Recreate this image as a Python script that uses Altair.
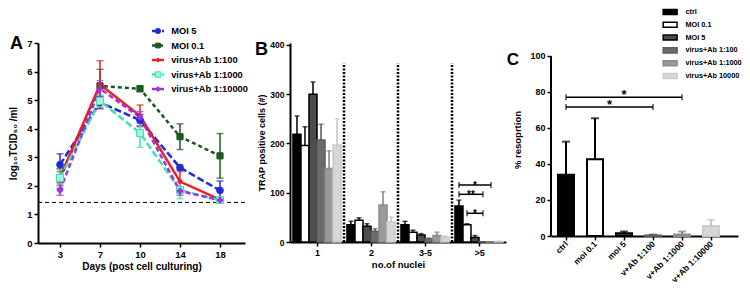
import altair as alt
import pandas as pd

FONT = "Liberation Sans"

# ---------------- Panel A: virus titre over time ----------------
days = ["3", "7", "10", "14", "18"]
series_a = ["MOI 5", "MOI 0.1", "virus+Ab 1:100", "virus+Ab 1:1000", "virus+Ab 1:10000"]
moi5 = [2.74, 4.92, 4.30, 2.64, 1.84]
moi5_err = [0.38, 0.22, 0.20, 0.08, 0.33]
moi01 = [2.25, 5.50, 5.40, 3.72, 3.05]
moi01_err = [0.35, 0.58, 0.10, 0.45, 0.78]
ab100 = [2.30, 5.55, 4.45, 2.15, 1.52]
ab100_err = [0.20, 0.83, 0.38, 0.35, 0.05]
ab1000 = [2.28, 4.97, 3.85, 1.85, 1.50]
ab1000_err = [0.30, 0.20, 0.50, 0.30, 0.05]
ab10000 = [1.85, 5.40, 4.40, 1.82, 1.50]
ab10000_err = [0.18, 0.28, 0.20, 0.15, 0.05]
detection_limit = 1.42

# ---------------- Panel B: TRAP positive cells ----------------
nuclei = ["1", "2", "3-5", ">5"]
series_bc = ["ctrl", "MOI 0.1", "MOI 5", "virus+Ab 1:100", "virus+Ab 1:1000", "virus+Ab 10000"]
trap_1 = [219, 196, 300, 207, 149, 197]
trap_1_err = [37, 38, 25, 32, 36, 53]
trap_2 = [35, 44, 32, 22, 75, 41]
trap_2_err = [7, 5, 5, 5, 27, 10]
trap_3_5 = [35, 20, 14, 6, 13, 10]
trap_3_5_err = [7, 4, 3, 2, 7, 2]
trap_gt5 = [73, 35, 9, 0.5, 0.5, 1]
trap_gt5_err = [12, 2, 4, 0, 0, 0.5]
sig_b_from = ["ctrl", "ctrl", "MOI 0.1"]
sig_b_to = ["virus+Ab 1:1000", "virus+Ab 1:100", "virus+Ab 1:100"]
sig_b_y = [115.7, 96.8, 58.3]
sig_b_text = ["*", "**", "*"]

# ---------------- Panel C: % resorption ----------------
resorp_labels = ["ctrl", "moi 0.1", "moi 5", "v+Ab 1:100", "v+Ab 1:1000", "v+Ab 1:10000"]
resorp = [34.0, 42.6, 1.5, 0.3, 0.8, 5.5]
resorp_err = [18.4, 22.8, 1.0, 0.5, 1.7, 3.5]
sig_c_from = ["ctrl", "ctrl"]
sig_c_to = ["v+Ab 1:1000", "v+Ab 1:100"]
sig_c_y = [77.0, 71.6]
sig_c_text = ["*", "*"]

# ---------------- styles ----------------
style_a = {
    "MOI 5": dict(color="#1f2bd6", dash=[7, 3], shape="circle", size=45, fill="#1f2bd6"),
    "MOI 0.1": dict(color="#1b5a1e", dash=[4, 3], shape="square", size=38, fill="#1b5a1e"),
    "virus+Ab 1:100": dict(color="#e8202a", dash=None, shape="circle", size=16, fill="#e8202a"),
    "virus+Ab 1:1000": dict(color="#3ee2b2", dash=[7, 3], shape="square", size=50, fill="#a6f2dc"),
    "virus+Ab 1:10000": dict(color="#a032e0", dash=[5, 3], shape="cross", size=28, fill="#a032e0"),
}
bar_fill = ["#000000", "#ffffff", "#4d4d4d", "#6b6b6b", "#9a9a9a", "#d6d6d6"]
bar_stroke = ["#000000", "#000000", "#000000", "#5e5e5e", "#8c8c8c", "#cccccc"]
err_color = ["#000000", "#000000", "#000000", "#555555", "#808080", "#c4c4c4"]

axis_style = dict(grid=False, domainColor="#000000", domainWidth=2, tickColor="#000000",
                  tickWidth=1.5, tickSize=4, labelColor="#000000", labelFont=FONT,
                  labelFontWeight="bold", labelPadding=2, titleFont=FONT,
                  titleFontWeight="bold", titleColor="#000000")


def js_list(vals):
    return "[" + ",".join("'" + v + "'" for v in vals) + "]"


def letter(txt, x, y, size):
    return alt.Chart(pd.DataFrame({"t": [txt]})).mark_text(
        font=FONT, fontWeight="bold", fontSize=size, align="center",
        baseline="middle", color="#000000").encode(x=alt.value(x), y=alt.value(y), text="t:N")


# ================= Panel A =================
A_W, A_H = 207, 200
xa_scale = alt.Scale(domain=[-0.55, 4.625], nice=False, zero=False)
ya_scale = alt.Scale(domain=[0, 7], nice=False, zero=False)
xa_axis = alt.Axis(values=list(range(len(days))), labelExpr=js_list(days) + "[datum.value]",
                   title="Days (post cell culturing)", labelFontSize=9.5, titleFontSize=10,
                   titlePadding=3, **axis_style)
ya_axis = alt.Axis(values=list(range(8)), title="log₁₀TCID₅₀ /ml", labelFontSize=9.5,
                   titleFontSize=10, titlePadding=8, **axis_style)


def XA(f):
    return alt.X(f + ":Q", scale=xa_scale, axis=xa_axis)


def YA(f):
    return alt.Y(f + ":Q", scale=ya_scale, axis=ya_axis)


titer_vals = [moi5, moi01, ab100, ab1000, ab10000]
titer_errs = [moi5_err, moi01_err, ab100_err, ab1000_err, ab10000_err]
rows_a = []
for s, vals, errs in zip(series_a, titer_vals, titer_errs):
    for i, (v, e) in enumerate(zip(vals, errs)):
        rows_a.append({"series": s, "idx": i, "val": v, "lo": v - e, "hi": v + e})
df_a = pd.DataFrame(rows_a)

leg_a = pd.DataFrame([{"series": s, "ly": 7.42 - 0.508 * k, "x1": 2.3, "x2": 2.6,
                       "xp": 2.45, "xt": 2.78} for k, s in enumerate(series_a)])

lines, errs_a, pts, legs = [], [], [], []
for s in series_a:
    st = style_a[s]
    d = df_a[df_a["series"] == s]
    lk = dict(color=st["color"], strokeWidth=2.5)
    if st["dash"]:
        lk["strokeDash"] = st["dash"]
    lines.append(alt.Chart(d).mark_line(**lk).encode(x=XA("idx"), y=YA("val")))
    errs_a.append(alt.Chart(d).mark_rule(color=st["color"], strokeWidth=1.5).encode(
        x=XA("idx"), y=YA("lo"), y2="hi"))
    for f in ["lo", "hi"]:
        errs_a.append(alt.Chart(d).mark_tick(color=st["color"], orient="horizontal", size=7,
                                             thickness=1.5).encode(x=XA("idx"), y=YA(f)))
    pk = dict(shape=st["shape"], size=st["size"], filled=True, fill=st["fill"],
              stroke=st["color"], strokeWidth=1, opacity=1)
    pts.append(alt.Chart(d).mark_point(**pk).encode(x=XA("idx"), y=YA("val")))
    ld = leg_a[leg_a["series"] == s]
    lpk = dict(pk)
    lpk["size"] = st["size"] * 0.6
    legs.append(alt.Chart(ld).mark_rule(**lk).encode(x=XA("x1"), x2="x2", y=YA("ly")))
    legs.append(alt.Chart(ld).mark_point(**lpk).encode(x=XA("xp"), y=YA("ly")))
legs.append(alt.Chart(leg_a).mark_text(font=FONT, fontWeight="bold", fontSize=9.3, align="left",
                                       baseline="middle", color="#000000").encode(
    x=XA("xt"), y=YA("ly"), text="series:N"))

limit = alt.Chart(pd.DataFrame({"y": [detection_limit]})).mark_rule(
    color="#000000", strokeWidth=1, strokeDash=[4, 3]).encode(y=YA("y"))

chart_a = alt.layer(limit, *lines, *errs_a, *pts, *legs, letter("A", -21.5, 0.5, 18)).properties(
    width=A_W, height=A_H)

# ================= Panel B =================
B_W, B_H = 216, 199
xb_scale = alt.Scale(domain=[0, 4], nice=False, zero=False)
yb_scale = alt.Scale(domain=[0, 404], nice=False, zero=False)
xb_axis = alt.Axis(values=[0.5, 1.5, 2.5, 3.5], labelExpr=js_list(nuclei) + "[floor(datum.value)]",
                   title="no.of nuclei", labelFontSize=9, titleFontSize=9.5, titlePadding=2,
                   **axis_style)
yb_axis = alt.Axis(values=[0, 100, 200, 300, 400], title="TRAP positive cells (#)", labelFontSize=8.5,
                   titleFontSize=9, titlePadding=3, **axis_style)


def XB(f):
    return alt.X(f + ":Q", scale=xb_scale, axis=xb_axis)


def YB(f):
    return alt.Y(f + ":Q", scale=yb_scale, axis=yb_axis)


fill_scale = alt.Scale(domain=series_bc, range=bar_fill)
stroke_scale = alt.Scale(domain=series_bc, range=bar_stroke)
err_scale = alt.Scale(domain=series_bc, range=err_color)

b_po = 0.055
b_w = (1 - 2 * b_po) / len(series_bc)
trap_vals = [trap_1, trap_2, trap_3_5, trap_gt5]
trap_errs = [trap_1_err, trap_2_err, trap_3_5_err, trap_gt5_err]
rows_b = []
for gi, g in enumerate(nuclei):
    for si, s in enumerate(series_bc):
        x0 = gi + b_po + si * b_w
        v = trap_vals[gi][si]
        rows_b.append({"group": g, "series": s, "x0": x0, "x1": x0 + b_w, "xc": x0 + b_w / 2,
                       "val": v, "top": v + trap_errs[gi][si], "base": 0})
df_b = pd.DataFrame(rows_b)


def center_b(series_name, group_index):
    return group_index + b_po + (series_bc.index(series_name) + 0.5) * b_w


bs = [center_b(a, 3) for a in sig_b_from]
be = [center_b(b, 3) for b in sig_b_to]
sig_b = pd.DataFrame({"bstart": bs, "bend": be, "bmid": [(p + q) / 2 for p, q in zip(bs, be)],
                      "y": sig_b_y, "label": sig_b_text})

dividers = pd.DataFrame({"x": [1, 2, 3], "y0": [0, 0, 0], "y1": [363, 363, 363]})

bars_b = alt.Chart(df_b).mark_bar(strokeWidth=1.5).encode(
    x=XB("x0"), x2="x1", y=YB("val"), y2="base",
    fill=alt.Fill("series:N", scale=fill_scale, legend=None),
    stroke=alt.Stroke("series:N", scale=stroke_scale, legend=None))
err_b = alt.Chart(df_b).mark_rule(strokeWidth=1.5).encode(
    x=XB("xc"), y=YB("val"), y2="top", color=alt.Color("series:N", scale=err_scale, legend=None))
cap_b = alt.Chart(df_b).mark_tick(orient="horizontal", size=5, thickness=1.5).encode(
    x=XB("xc"), y=YB("top"), color=alt.Color("series:N", scale=err_scale, legend=None))
div_b = alt.Chart(dividers).mark_rule(color="#000000", strokeWidth=2.5, strokeDash=[2, 1.5]).encode(
    x=XB("x"), y=YB("y0"), y2="y1")
br_b = alt.Chart(sig_b).mark_rule(color="#000000", strokeWidth=1.5).encode(
    x=XB("bstart"), x2="bend", y=YB("y"))
brs_b = alt.Chart(sig_b).mark_tick(color="#000000", orient="vertical", size=6, thickness=1.5).encode(
    x=XB("bstart"), y=YB("y"))
bre_b = alt.Chart(sig_b).mark_tick(color="#000000", orient="vertical", size=6, thickness=1.5).encode(
    x=XB("bend"), y=YB("y"))
star_b = alt.Chart(sig_b).mark_text(font=FONT, fontWeight="bold", fontSize=10, baseline="alphabetic",
                                    dy=3.5, color="#000000").encode(x=XB("bmid"), y=YB("y"), text="label:N")

chart_b = alt.layer(div_b, bars_b, err_b, cap_b, br_b, brs_b, bre_b, star_b,
                    letter("B", -28.5, 7, 18)).properties(width=B_W, height=B_H)

# ================= Panel C =================
C_W, C_H = 187, 193
xc_scale = alt.Scale(domain=[-0.517, 5.93], nice=False, zero=False)
yc_scale = alt.Scale(domain=[0, 107.2], nice=False, zero=False)
xc_axis = alt.Axis(values=list(range(len(resorp_labels))),
                   labelExpr=js_list(resorp_labels) + "[datum.value]", title=None, labelAngle=-45,
                   labelAlign="right", labelBaseline="middle", labelFontSize=8.5,
                   labelOverlap=False, labelBound=False, labelFlush=False, **axis_style)
yc_axis = alt.Axis(values=[0, 20, 40, 60, 80, 100], title="% resoprtion", labelFontSize=9,
                   titleFontSize=9.5, titlePadding=7, domain=False, **axis_style)


def XC(f):
    return alt.X(f + ":Q", scale=xc_scale, axis=xc_axis)


def YC(f):
    return alt.Y(f + ":Q", scale=yc_scale, axis=yc_axis)


half_c = 0.276
idx_c = list(range(len(resorp_labels)))
df_c = pd.DataFrame({"series": series_bc, "label": resorp_labels, "idx": idx_c, "val": resorp,
                     "top": [v + e for v, e in zip(resorp, resorp_err)],
                     "x0": [i - half_c for i in idx_c], "x1": [i + half_c for i in idx_c],
                     "base": [0] * len(idx_c)})

cs = [resorp_labels.index(a) for a in sig_c_from]
ce = [resorp_labels.index(b) for b in sig_c_to]
sig_c = pd.DataFrame({"bstart": cs, "bend": ce, "bmid": [(p + q) / 2 for p, q in zip(cs, ce)],
                      "y": sig_c_y, "label": sig_c_text})

ly_c = [124.4 - 7.1 * k for k in range(len(series_bc))]
leg_c = pd.DataFrame({"series": series_bc, "ly": ly_c,
                      "ly0": [v - 1.4 for v in ly_c], "ly1": [v + 1.4 for v in ly_c],
                      "lx0": [3.35] * len(ly_c), "lx1": [3.83] * len(ly_c),
                      "lt": [4.12] * len(ly_c)})

yline = alt.Chart(pd.DataFrame({"a": [0], "b": [100]})).mark_rule(color="#000000", strokeWidth=2).encode(
    x=alt.value(0), y=YC("a"), y2="b")
bars_c = alt.Chart(df_c).mark_bar(strokeWidth=2).encode(
    x=XC("x0"), x2="x1", y=YC("val"), y2="base",
    fill=alt.Fill("series:N", scale=fill_scale, legend=None),
    stroke=alt.Stroke("series:N", scale=stroke_scale, legend=None))
err_c = alt.Chart(df_c).mark_rule(strokeWidth=2).encode(
    x=XC("idx"), y=YC("val"), y2="top", color=alt.Color("series:N", scale=err_scale, legend=None))
cap_c = alt.Chart(df_c).mark_tick(orient="horizontal", size=8, thickness=2).encode(
    x=XC("idx"), y=YC("top"), color=alt.Color("series:N", scale=err_scale, legend=None))
br_c = alt.Chart(sig_c).mark_rule(color="#000000", strokeWidth=1.5).encode(
    x=XC("bstart"), x2="bend", y=YC("y"))
brs_c = alt.Chart(sig_c).mark_tick(color="#000000", orient="vertical", size=6, thickness=1.5).encode(
    x=XC("bstart"), y=YC("y"))
bre_c = alt.Chart(sig_c).mark_tick(color="#000000", orient="vertical", size=6, thickness=1.5).encode(
    x=XC("bend"), y=YC("y"))
star_c = alt.Chart(sig_c).mark_text(font=FONT, fontWeight="bold", fontSize=13, baseline="alphabetic",
                                    dy=2, color="#000000").encode(x=XC("bmid"), y=YC("y"), text="label:N")
sw_c = alt.Chart(leg_c).mark_bar(strokeWidth=1.5).encode(
    x=XC("lx0"), x2="lx1", y=YC("ly0"), y2="ly1",
    fill=alt.Fill("series:N", scale=fill_scale, legend=None),
    stroke=alt.Stroke("series:N", scale=stroke_scale, legend=None))
lt_c = alt.Chart(leg_c).mark_text(font=FONT, fontWeight="bold", fontSize=7.3, align="left",
                                  baseline="middle", color="#000000").encode(
    x=XC("lt"), y=YC("ly"), text="series:N")

chart_c = alt.layer(yline, bars_c, err_c, cap_c, br_c, brs_c, bre_c, star_c, sw_c, lt_c,
                    letter("C", -38, 17, 17)).properties(width=C_W, height=C_H)

chart = alt.hconcat(chart_a, chart_b, chart_c, spacing=45, bounds="flush", padding=0,
                    background="#ffffff").configure_view(stroke=None)

chart.save("out.html", embed_options={"renderer": "svg", "actions": False})
